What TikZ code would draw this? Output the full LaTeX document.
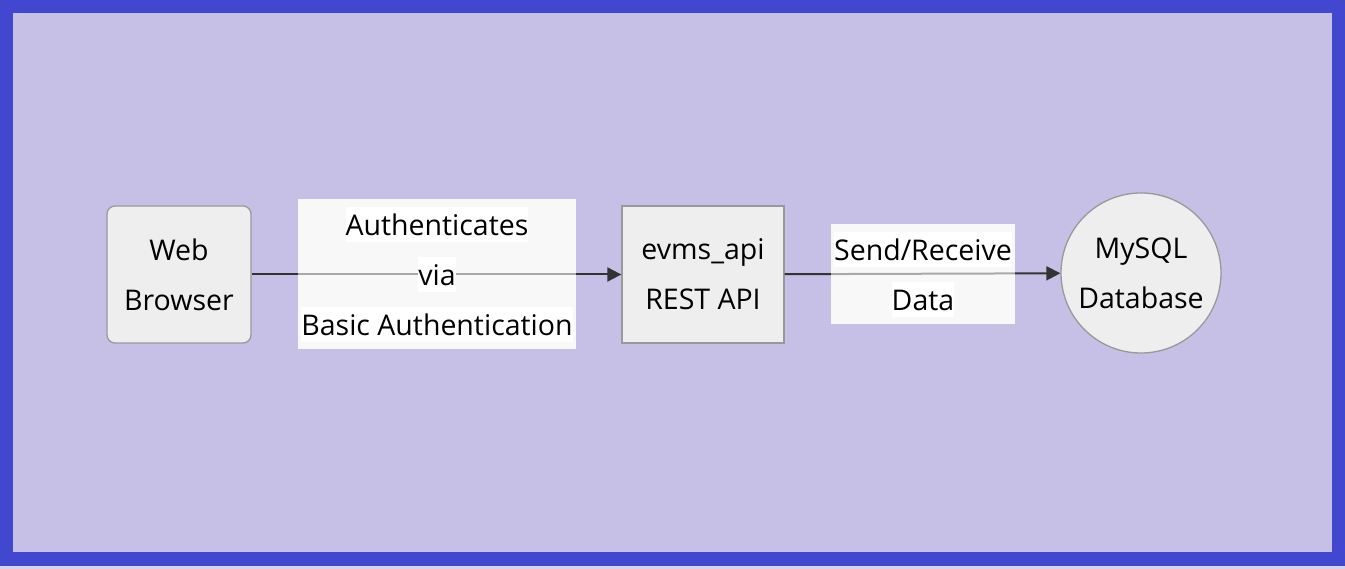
\documentclass[tikz,border=0pt]{standalone}
\usepackage{fontspec}
\setmainfont{Open Sans}
\usepackage{xcolor}
\usetikzlibrary{arrows.meta, positioning}

\definecolor{frameblue}{HTML}{4147CF}
\definecolor{canvas}{HTML}{C6C0E7}
\definecolor{nodefill}{HTML}{EEEEEE}
\definecolor{nodeline}{HTML}{999999}
\definecolor{edgeline}{HTML}{333333}
\definecolor{labelbg}{HTML}{F8F8F8}

\begin{document}
\begin{tikzpicture}[x=1pt, y=-1pt, >={Triangle[length=14pt, width=14pt]}, font=\fontsize{28.5}{50}\selectfont]

		% Define block styles
		\tikzstyle{client} = [rectangle, rounded corners=8pt, draw=nodeline, line width=1.3pt, fill=nodefill, minimum width=144pt, minimum height=137pt, align=center]
		\tikzstyle{service} = [rectangle, draw=nodeline, line width=1.3pt, fill=nodefill, minimum width=162pt, minimum height=137pt, align=center]
		\tikzstyle{store} = [circle, draw=nodeline, line width=1.3pt, fill=nodefill, minimum size=160pt, inner sep=0pt, align=center]
		\tikzstyle{labelbox} = [rectangle, fill=labelbg, inner sep=0pt]
		\tikzstyle{labelline} = [rectangle, fill=white, inner xsep=0pt, inner ysep=0pt, minimum height=35pt]
		\tikzstyle{edge} = [->, draw=edgeline, line width=2pt]

		% Frame
		\fill[canvas!70!white] (0,0) rectangle (1345,569);
		\fill[frameblue] (0,0) rectangle (1345,566);
		\fill[canvas] (13,13) rectangle (1332,552);
		\useasboundingbox (0,0) rectangle (1345,569);

		% Nodes
		\node[client] (browser) at (179,274.5) {Web\\Browser};
		\node[service] (api) at (703,274.5) {evms\_api\\REST API};
		\node[store] (db) at (1141,273) {MySQL\\Database};
		\node[labelbox, minimum width=278pt, minimum height=150pt] (authbox) at (437,274) {};
		\node[labelbox, minimum width=184pt, minimum height=100pt] (databox) at (923,274) {};

		% Arrows
		\draw[edge] (browser) -- (api);
		\draw[edge] (api) -- (db);

		% Labels
		\fill[labelbg, fill opacity=0.6] (authbox.north west) rectangle (authbox.south east);
		\node[labelline] (auth1) at (437,225) {Authenticates};
		\node[labelline] (auth2) at (437,275) {via};
		\node[labelline] (auth3) at (437,325) {Basic Authentication};

		\fill[labelbg, fill opacity=0.6] (databox.north west) rectangle (databox.south east);
		\node[labelline] (data1) at (923,250) {Send/Receive};
		\node[labelline] (data2) at (923,300) {Data};

\end{tikzpicture}
\end{document}
